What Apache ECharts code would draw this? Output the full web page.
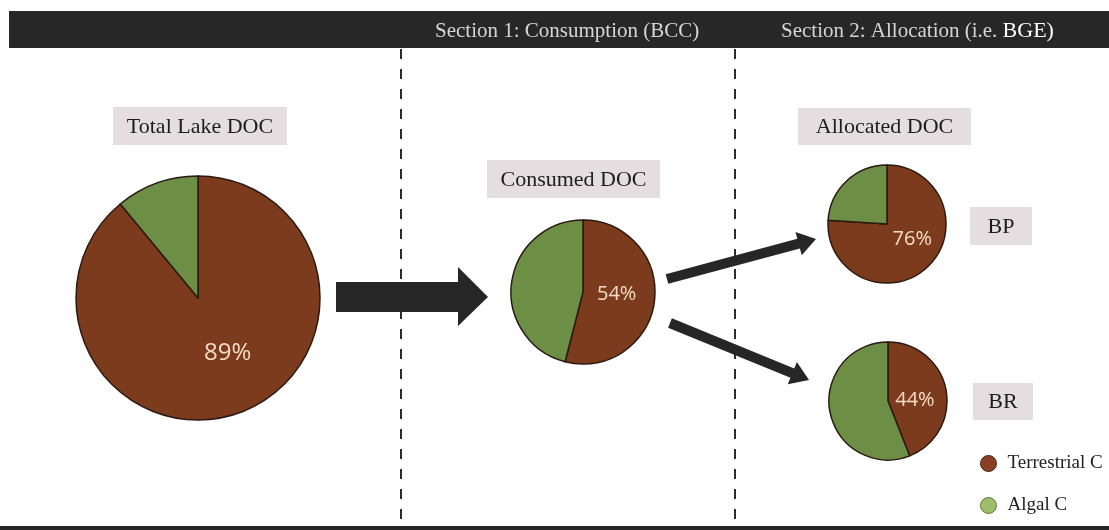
<!DOCTYPE html>
<html>
<head>
<meta charset="utf-8">
<script src="https://cdn.jsdelivr.net/npm/echarts@6/dist/echarts.min.js"></script>
<style>
  html, body { margin: 0; padding: 0; background: #ffffff; }
  #chart { width: 1109px; height: 530px; }
</style>
</head>
<body>
<div id="chart"></div>
<script>
// Share of terrestrial vs algal carbon at each stage (%)
const panels = ['Total Lake DOC', 'Consumed DOC', 'BP', 'BR'];
const terrestrial = [89, 54, 76, 44];
const algal = [11, 46, 24, 56];
const sourceNames = ['Terrestrial C', 'Algal C'];
const sectionTitles = ['Section 1: Consumption (BCC)', 'Section 2: Allocation (i.e. ', 'BGE)'];
const boxLabels = ['Total Lake DOC', 'Consumed DOC', 'Allocated DOC', 'BP', 'BR'];

const BROWN = '#7c3b1c';
const GREEN = '#6c8e45';
const SERIF = '"Liberation Serif", "DejaVu Serif", serif';
const SANS = '"Open Sans", "Noto Sans", sans-serif';

// pie placement: centre, radius, label size, label nudge
const pieLayout = [
  { center: [198, 298], r: 122, fs: 24, off: [8, -5] },
  { center: [583, 292], r: 72, fs: 20, off: [-5, -3] },
  { center: [887, 224], r: 59, fs: 20, off: [3, -8] },
  { center: [888, 401], r: 59, fs: 20, off: [-5, 5] }
];

// grey caption boxes: [x, y, w, h]
const boxLayout = [
  [113, 107, 174, 38],
  [487, 160, 173, 38],
  [798, 108, 173, 37],
  [970, 207, 62, 38],
  [973, 383, 60, 37]
];

function arrowPoints(x0, y0, x1, y1, shaft, head, headLen) {
  const dx = x1 - x0, dy = y1 - y0;
  const len = Math.sqrt(dx * dx + dy * dy);
  const ux = dx / len, uy = dy / len;
  const nx = -uy, ny = ux;
  const bx = x1 - ux * headLen, by = y1 - uy * headLen;
  const s = shaft / 2, h = head / 2;
  return [
    [x0 + nx * s, y0 + ny * s],
    [bx + nx * s, by + ny * s],
    [bx + nx * h, by + ny * h],
    [x1, y1],
    [bx - nx * h, by - ny * h],
    [bx - nx * s, by - ny * s],
    [x0 - nx * s, y0 - ny * s]
  ];
}

const graphics = [];

// header band
graphics.push({ type: 'rect', shape: { x: 9, y: 11, width: 1100, height: 37 }, style: { fill: '#272727' }, silent: true });
graphics.push({
  type: 'text', x: 435, y: 31,
  style: { text: sectionTitles[0], fill: '#d6d6d6', font: '21px ' + SERIF, textAlign: 'left', textVerticalAlign: 'middle' },
  silent: true
});
graphics.push({
  type: 'text', x: 781, y: 31,
  style: {
    text: '{a|' + sectionTitles[1] + '}{b|' + sectionTitles[2] + '}',
    textAlign: 'left', textVerticalAlign: 'middle',
    rich: {
      a: { fill: '#d6d6d6', fontFamily: SERIF, fontSize: 21 },
      b: { fill: '#ffffff', fontFamily: SERIF, fontSize: 22 }
    }
  },
  silent: true
});

// bottom rule
graphics.push({ type: 'rect', shape: { x: 0, y: 526, width: 1109, height: 4 }, style: { fill: '#262626' }, silent: true });

// section dividers
[401, 735].forEach(function (x) {
  graphics.push({
    type: 'line', shape: { x1: x, y1: 49, x2: x, y2: 524 },
    style: { stroke: '#2e2e2e', lineWidth: 2, lineDash: [10, 10] }, silent: true
  });
});

// caption boxes
boxLabels.forEach(function (t, i) {
  const b = boxLayout[i];
  graphics.push({ type: 'rect', shape: { x: b[0], y: b[1], width: b[2], height: b[3] }, style: { fill: '#e5dee1' }, silent: true });
  graphics.push({
    type: 'text', x: b[0] + b[2] / 2, y: b[1] + b[3] / 2 + 1,
    style: { text: t, fill: '#1c1c1c', font: '22px ' + SERIF, textAlign: 'center', textVerticalAlign: 'middle' },
    silent: true
  });
});

// flow arrows
graphics.push({
  type: 'polygon',
  shape: { points: [[336, 282], [458, 282], [458, 267], [488, 297], [458, 326], [458, 312], [336, 312]] },
  style: { fill: '#262626' }, silent: true
});
graphics.push({ type: 'polygon', shape: { points: arrowPoints(667, 279, 816, 239, 10, 24, 18) }, style: { fill: '#262626' }, silent: true });
graphics.push({ type: 'polygon', shape: { points: arrowPoints(670, 323, 809, 380, 10, 24, 18) }, style: { fill: '#262626' }, silent: true });

const chart = echarts.init(document.getElementById('chart'), null, { renderer: 'canvas' });
chart.setOption({
  animation: false,
  backgroundColor: '#ffffff',
  legend: {
    orient: 'vertical',
    left: 975,
    top: 449,
    icon: 'circle',
    itemWidth: 28,
    itemHeight: 16,
    itemGap: 23,
    selectedMode: false,
    textStyle: { fontFamily: SERIF, fontSize: 19, color: '#222222' },
    data: [
      { name: sourceNames[0], itemStyle: { color: '#8a3f24', borderColor: '#4a2616', borderWidth: 1 } },
      { name: sourceNames[1], itemStyle: { color: '#9dbd6b', borderColor: '#5b7a3e', borderWidth: 1 } }
    ]
  },
  graphic: { elements: graphics },
  series: pieLayout.map(function (p, i) {
    return {
      type: 'pie',
      name: panels[i],
      center: p.center,
      radius: p.r,
      startAngle: 90,
      clockwise: true,
      silent: true,
      itemStyle: { borderColor: '#2a1a12', borderWidth: 1.5 },
      label: {
        show: true,
        position: 'inside',
        offset: p.off,
        formatter: function (params) { return params.dataIndex === 0 ? params.value + '%' : ''; },
        color: '#f6dcc6',
        fontFamily: SANS,
        fontSize: p.fs
      },
      labelLine: { show: false },
      emphasis: { disabled: true },
      data: [
        { name: sourceNames[0], value: terrestrial[i], itemStyle: { color: BROWN } },
        { name: sourceNames[1], value: algal[i], itemStyle: { color: GREEN } }
      ]
    };
  })
});
</script>
</body>
</html>
